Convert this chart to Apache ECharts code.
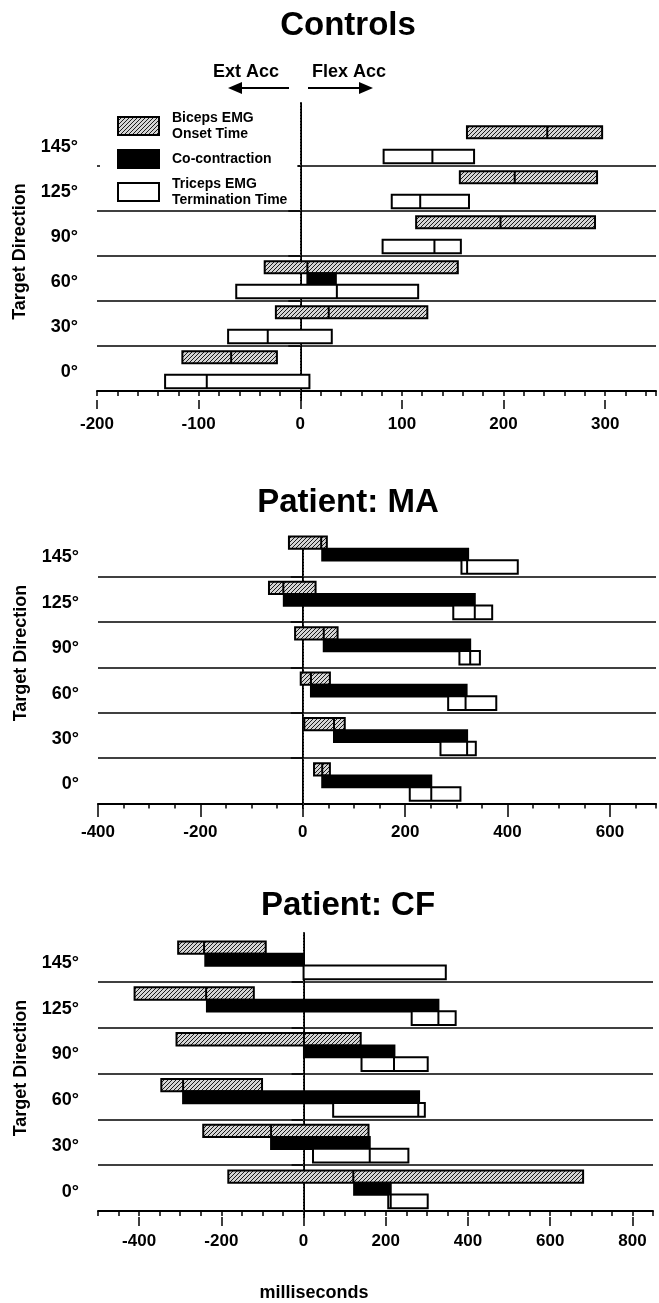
<!DOCTYPE html>
<html>
<head>
<meta charset="utf-8">
<script src="https://cdn.jsdelivr.net/npm/echarts@6/dist/echarts.min.js"></script>
<style>
  html, body { margin: 0; padding: 0; background: #fff; }
  #chart { width: 659px; height: 1303px; }
</style>
</head>
<body>
<div id="chart"></div>
<script>
// target directions, bottom to top
var directions = ['0°', '30°', '60°', '90°', '125°', '145°'];

// Controls: [start, mean, end] in ms
var ctrlBiceps  = [[-116, -68, -23], [-24, 28, 125], [-35, 7, 155], [114, 197, 290], [157, 211, 292], [164, 243, 297]];
var ctrlCocon   = [null, null, [7, 35], null, null, null];
var ctrlTriceps = [[-133, -92, 9], [-71, -32, 31], [-63, 36, 116], [81, 132, 158], [90, 118, 166], [82, 130, 171]];

// Patient MA
var maBiceps  = [[22, 38, 53], [3, 61, 82], [-4, 16, 53], [-15, 41, 68], [-66, -38, 25], [-27, 36, 47]];
var maCocon   = [[38, 251], [61, 321], [16, 320], [41, 327], [-37, 336], [38, 323]];
var maTriceps = [[209, 251, 308], [269, 321, 338], [284, 318, 378], [306, 327, 346], [294, 336, 370], [310, 321, 420]];

// Patient CF
var cfBiceps  = [[-183, 121, 680], [-244, -79, 158], [-346, -293, -101], [-309, 1, 139], [-411, -237, -121], [-305, -242, -92]];
var cfCocon   = [[123, 212], [-79, 161], [-293, 281], [1, 221], [-235, 328], [-239, 0]];
var cfTriceps = [[206, 212, 302], [23, 161, 255], [72, 279, 295], [141, 220, 302], [263, 328, 370], [0, 0, 346]];

// x axis ticks: labelled majors, small minors
var ctrlMajor = [-200, -100, 0, 100, 200, 300];
var maMajor = [-400, -200, 0, 200, 400, 600];
var cfMajor = [-400, -200, 0, 200, 400, 600, 800];

var FONT = '"Liberation Sans", Arial, Helvetica, sans-serif';

// diagonal hatching for biceps bars
var hatch = document.createElement('canvas');
hatch.width = 4; hatch.height = 4;
var hc = hatch.getContext('2d');
hc.fillStyle = '#d4d4d4';
hc.fillRect(0, 0, 4, 4);
hc.strokeStyle = '#1a1a1a';
hc.lineWidth = 1;
hc.beginPath();
hc.moveTo(0, 4); hc.lineTo(4, 0);
hc.moveTo(-1, 1); hc.lineTo(1, -1);
hc.moveTo(3, 5); hc.lineTo(5, 3);
hc.stroke();
var hatchFill = { image: hatch, repeat: 'repeat' };

var NAME_B = 'Biceps EMG\nOnset Time';
var NAME_C = 'Co-contraction';
var NAME_T = 'Triceps EMG\nTermination Time';

// vertical slot of each bar inside a direction band
var slotB = { c: 0.75, h: 0.27 };
var slotC = { c: 0.485, h: 0.26 };
var slotT = { c: 0.21, h: 0.30 };

function toData(list) {
    var out = [];
    list.forEach(function (r, k) {
        if (!r) return;
        if (r.length === 2) out.push([k, r[0], r[0], r[1]]);
        else out.push([k, r[0], r[1], r[2]]);
    });
    return out;
}

function barRender(slot, fill) {
    return function (params, api) {
        var y = api.value(0) + slot.c;
        var a = api.coord([api.value(1), y]);
        var m = api.coord([api.value(2), y]);
        var b = api.coord([api.value(3), y]);
        var h = api.size([0, slot.h])[1];
        var kids = [{
            type: 'rect',
            shape: { x: a[0], y: a[1] - h / 2, width: b[0] - a[0], height: h },
            style: { fill: fill, stroke: '#000', lineWidth: 2 }
        }];
        if (api.value(2) !== api.value(1) && api.value(2) !== api.value(3)) {
            kids.push({
                type: 'line',
                shape: { x1: m[0], y1: a[1] - h / 2, x2: m[0], y2: a[1] + h / 2 },
                style: { stroke: '#000', lineWidth: 2 }
            });
        }
        return { type: 'group', children: kids };
    };
}

var panels = [
    { title: 'Controls', titleTop: 9, top: 103, height: 297, left: 97, right: 2,
      ymin: -0.2, ymax: 6.4, xmin: -200, xmax: 350, minor: 20, major: ctrlMajor, namePad: 0,
      b: ctrlBiceps, c: ctrlCocon, t: ctrlTriceps },
    { title: 'Patient: MA', titleTop: 486, top: 538, height: 270, left: 98, right: 2,
      ymin: -0.1, ymax: 5.85, xmin: -400, xmax: 690, minor: 50, major: maMajor, namePad: 40,
      b: maBiceps, c: maCocon, t: maTriceps },
    { title: 'Patient: CF', titleTop: 889, top: 933, height: 284, left: 98, right: 6,
      ymin: -0.13, ymax: 6.07, xmin: -500, xmax: 850, minor: 50, major: cfMajor, namePad: 14,
      b: cfBiceps, c: cfCocon, t: cfTriceps }
];

var titles = [], grids = [], xAxes = [], yAxes = [], series = [];

panels.forEach(function (p, i) {
    titles.push({
        text: p.title, left: 348, top: p.titleTop, textAlign: 'center', padding: 0,
        textStyle: { fontSize: 33, fontWeight: 'bold', color: '#000', fontFamily: FONT }
    });
    grids.push({ left: p.left, right: p.right, top: p.top, height: p.height });

    var majorSet = p.major;
    xAxes.push({
        gridIndex: i, type: 'value', position: 'bottom',
        min: p.xmin, max: p.xmax, interval: p.minor,
        axisLine: { lineStyle: { color: '#000', width: 2 } },
        axisTick: { length: 5, lineStyle: { color: '#000', width: 1.5 } },
        axisLabel: {
            margin: 16, color: '#000', fontSize: 17, fontWeight: 'bold', fontFamily: FONT,
            formatter: function (v) { return majorSet.indexOf(v) >= 0 ? String(v) : ''; }
        },
        splitLine: { show: false }
    });
    xAxes.push({
        gridIndex: i, type: 'value', position: 'bottom',
        min: p.xmin, max: p.xmax,
        axisLine: { show: false },
        axisTick: { customValues: p.major, length: 9, lineStyle: { color: '#000', width: 1.5 } },
        axisLabel: { show: false },
        splitLine: { show: false }
    });

    yAxes.push({
        gridIndex: i, type: 'value', min: p.ymin, max: p.ymax,
        axisLine: { show: true, lineStyle: { color: '#000', width: 2 } },
        axisTick: { show: true, customValues: directions.map(function (d, k) { return k; }),
                    length: 12, lineStyle: { color: '#000', width: 1.5 } },
        axisLabel: {
            customValues: directions.map(function (d, k) { return k + 0.42; }),
            formatter: function (v) { return directions[Math.floor(v)]; },
            margin: 19, color: '#000', fontSize: 18, fontWeight: 'bold', fontFamily: FONT
        },
        splitLine: { show: false },
        name: 'Target Direction', nameLocation: 'middle', nameGap: 68,
        nameTextStyle: { color: '#000', fontSize: 18, fontWeight: 'bold', fontFamily: FONT,
                         padding: [0, 0, 0, p.namePad] }
    });

    // band dividers and the zero line, kept under the bars
    var guides = directions.slice(1).map(function (d, k) { return { yAxis: k + 1 }; });
    guides.push({ xAxis: 0, lineStyle: { color: '#333', width: 1, type: [2, 1] } });
    series.push({
        name: 'guides', type: 'line', data: [], xAxisIndex: 2 * i, yAxisIndex: i, z: 1,
        markLine: {
            silent: true, symbol: 'none', z: 1, label: { show: false },
            lineStyle: { color: '#000', width: 1.5, type: 'solid' },
            data: guides
        }
    });

    [[NAME_B, p.b, slotB, hatchFill], [NAME_C, p.c, slotC, '#000'], [NAME_T, p.t, slotT, '#fff']]
        .forEach(function (s) {
            series.push({
                name: s[0], type: 'custom', coordinateSystem: 'cartesian2d',
                xAxisIndex: 2 * i, yAxisIndex: i, z: 3,
                itemStyle: { color: s[3], borderColor: '#000', borderWidth: 2 },
                encode: { x: [1, 2, 3], y: 0 },
                renderItem: barRender(s[2], s[3]),
                data: toData(s[1])
            });
        });
});

var myChart = echarts.init(document.getElementById('chart'));

myChart.setOption({
    animation: false,
    backgroundColor: '#fff',
    title: titles,
    grid: grids,
    xAxis: xAxes,
    yAxis: yAxes,
    legend: {
        data: [NAME_B, NAME_C, NAME_T],
        orient: 'vertical', left: 100, top: 104,
        padding: [6, 10, 0, 17], backgroundColor: '#fff',
        icon: 'rect', itemWidth: 41, itemHeight: 18, itemGap: 7,
        selectedMode: false,
        textStyle: { color: '#000', fontSize: 14, fontWeight: 'bold', fontFamily: FONT,
                     lineHeight: 16, padding: [0, 0, 0, 8] }
    },
    graphic: [
        { type: 'text', x: 213, y: 72,
          style: { text: 'Ext Acc', fill: '#000', font: 'bold 18px ' + FONT, verticalAlign: 'middle' } },
        { type: 'text', x: 312, y: 72,
          style: { text: 'Flex Acc', fill: '#000', font: 'bold 18px ' + FONT, verticalAlign: 'middle' } },
        { type: 'line', shape: { x1: 238, y1: 88, x2: 289, y2: 88 }, style: { stroke: '#000', lineWidth: 2 } },
        { type: 'polygon', shape: { points: [[228, 88], [242, 82], [242, 94]] }, style: { fill: '#000' } },
        { type: 'line', shape: { x1: 308, y1: 88, x2: 362, y2: 88 }, style: { stroke: '#000', lineWidth: 2 } },
        { type: 'polygon', shape: { points: [[373, 88], [359, 82], [359, 94]] }, style: { fill: '#000' } },
        { type: 'text', x: 314, y: 1293,
          style: { text: 'milliseconds', fill: '#000', font: 'bold 18px ' + FONT,
                   align: 'center', verticalAlign: 'middle' } }
    ],
    series: series
});
</script>
</body>
</html>
